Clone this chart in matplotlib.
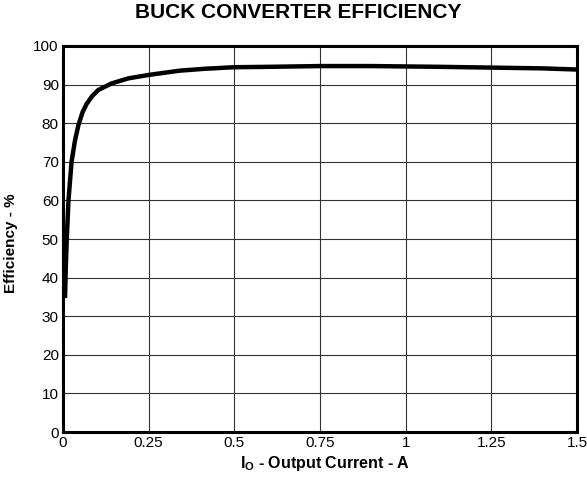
import matplotlib
matplotlib.use("Agg")
import matplotlib.pyplot as plt

# output current (A) and efficiency (%)
current = [0.006, 0.008, 0.011, 0.016, 0.025, 0.035, 0.045, 0.057, 0.069, 0.085, 0.103,
           0.142, 0.19, 0.25, 0.34, 0.414, 0.5, 0.6, 0.75, 0.9, 1.0, 1.1, 1.25, 1.4, 1.5]
efficiency = [34.7, 42.0, 50.0, 60.0, 70.0, 75.5, 79.5, 82.8, 85.0, 87.0, 88.6,
              90.3, 91.6, 92.5, 93.6, 94.1, 94.5, 94.6, 94.8, 94.8, 94.7, 94.6, 94.4, 94.2, 93.9]

xticks = [0, 0.25, 0.5, 0.75, 1, 1.25, 1.5]
xtick_labels = ["0", "0.25", "0.5", "0.75", "1", "1.25", "1.5"]
yticks = list(range(0, 101, 10))

plt.rcParams["font.family"] = ["Liberation Sans", "DejaVu Sans"]
plt.rcParams["mathtext.fontset"] = "custom"
plt.rcParams["mathtext.bf"] = "Liberation Sans:bold"
plt.rcParams["mathtext.rm"] = "Liberation Sans"

fig = plt.figure(figsize=(5.87, 4.78), dpi=100)
ax = fig.add_axes([0.1073, 0.0962, 0.8757, 0.8076])

ax.plot(current, efficiency, color="black", linewidth=3.2, solid_capstyle="butt")

ax.set_xlim(0, 1.5)
ax.set_ylim(0, 100)
ax.set_xticks(xticks)
ax.set_xticklabels(xtick_labels)
ax.set_yticks(yticks)
ax.tick_params(length=0, labelsize=11, pad=3)
ax.grid(True, color="#333333", linewidth=0.8)
for s in ax.spines.values():
    s.set_linewidth(2.2)

ax.set_xlabel("$\\mathbf{I_O}$ - Output Current - A", fontsize=11.5, fontweight="bold")
ax.xaxis.set_label_coords(0.51, -0.058)
ax.set_ylabel("Efficiency - %", fontsize=11, fontweight="bold")
ax.yaxis.set_label_coords(-0.088, 0.49)
fig.text(0.508, 0.973, "BUCK CONVERTER EFFICIENCY", ha="center", va="center",
         fontsize=15, fontweight="bold")

fig.savefig("out.png")
plt.close(fig)
